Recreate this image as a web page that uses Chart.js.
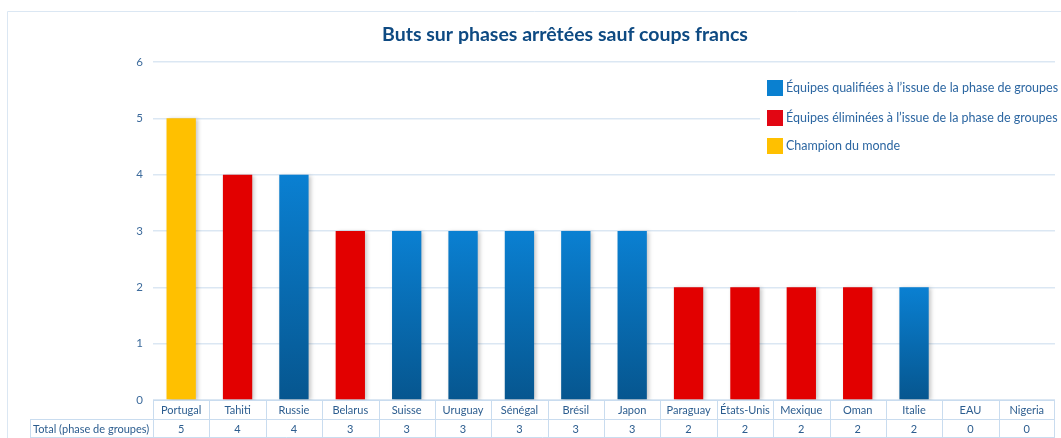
<!DOCTYPE html>
<html>
<head>
<meta charset="utf-8">
<script src="https://cdn.jsdelivr.net/npm/chart.js@4.4.1/dist/chart.umd.min.js"></script>
<style>
  html, body { margin: 0; padding: 0; background: #fff; }
  #wrap { width: 1061px; height: 438px; position: relative; }
</style>
</head>
<body>
<div id="wrap"><canvas id="chart" width="1061" height="438"></canvas></div>
<script>
const titleText = "Buts sur phases arrêtées sauf coups francs";
const countries = ["Portugal", "Tahiti", "Russie", "Belarus", "Suisse", "Uruguay", "Sénégal", "Brésil",
  "Japon", "Paraguay", "États-Unis", "Mexique", "Oman", "Italie", "EAU", "Nigeria"];
const totals = [5, 4, 4, 3, 3, 3, 3, 3, 3, 2, 2, 2, 2, 2, 0, 0];
// q = qualifiée, e = éliminée, c = champion
const status = ["c", "e", "q", "e", "q", "q", "q", "q", "q", "e", "e", "e", "e", "q", "e", "e"];
const seriesLabels = {
  q: "Équipes qualifiées à l’issue de la phase de groupes",
  e: "Équipes éliminées à l’issue de la phase de groupes",
  c: "Champion du monde"
};
const rowLabel = "Total (phase de groupes)";
const yTicks = [0, 1, 2, 3, 4, 5, 6];

const FONT = "Lato, 'Open Sans', sans-serif";
const TXT = "#2c5d8f";
const LINE = "#dbe7f3";

function blueGradient(ctx) {
  const chart = ctx.chart;
  const area = chart.chartArea;
  if (!area || ctx.parsed == null) return "#0a7acb";
  const y = chart.scales.y;
  const top = y.getPixelForValue(ctx.parsed.y);
  const bottom = y.getPixelForValue(0);
  if (!(bottom > top)) return "#0a7acb";
  const g = chart.ctx.createLinearGradient(0, top, 0, bottom);
  g.addColorStop(0, "#0a80d2");
  g.addColorStop(1, "#06568f");
  return g;
}

function pick(key) {
  return totals.map((v, i) => status[i] === key ? v : null);
}

const datasets = [
  { key: "q", label: seriesLabels.q, data: pick("q"), backgroundColor: blueGradient, legendColor: "#0a80d0" },
  { key: "e", label: seriesLabels.e, data: pick("e"), backgroundColor: "#e20000", legendColor: "#e20613" },
  { key: "c", label: seriesLabels.c, data: pick("c"), backgroundColor: "#ffc000", legendColor: "#ffc000" }
];

const decor = {
  id: "decor",
  beforeDatasetsDraw(chart) {
    const c = chart.ctx;
    c.save();
    c.shadowColor = "rgba(0,0,0,0.22)";
    c.shadowBlur = 4;
    c.shadowOffsetX = 2;
    c.shadowOffsetY = 1;
  },
  afterDatasetsDraw(chart) {
    chart.ctx.restore();
  },
  afterDraw(chart) {
    const c = chart.ctx;
    const area = chart.chartArea;
    const x = chart.scales.x;
    c.save();

    // frame
    c.strokeStyle = LINE;
    c.lineWidth = 1;
    c.beginPath();
    c.moveTo(7.5, 438);
    c.lineTo(7.5, 11.5);
    c.lineTo(1061, 11.5);
    c.stroke();

    // title
    c.fillStyle = "#0e4a82";
    c.font = "bold 19.5px " + FONT;
    c.textAlign = "center";
    c.textBaseline = "middle";
    c.fillText(titleText, 565, 35);

    // legend
    c.fillStyle = "#fff";
    c.fillRect(760, 72, 298, 88);
    c.font = "12.5px " + FONT;
    c.textAlign = "left";
    const ly = [88, 118, 146];
    datasets.forEach((ds, i) => {
      c.fillStyle = ds.legendColor;
      c.fillRect(767, ly[i] - 8, 16, 16);
      c.fillStyle = "#2d67a2";
      c.fillText(ds.label, 786, ly[i]);
    });

    // data table
    const half = (x.getPixelForValue(1) - x.getPixelForValue(0)) / 2;
    const r1 = area.bottom, r2 = area.bottom + 19, r3 = area.bottom + 37;
    c.strokeStyle = "#c9dcef";
    c.beginPath();
    c.moveTo(area.left, r1 + 0.5); c.lineTo(area.right, r1 + 0.5);
    c.moveTo(30, r2 + 0.5); c.lineTo(area.right, r2 + 0.5);
    c.moveTo(30, r3 + 0.5); c.lineTo(area.right, r3 + 0.5);
    c.moveTo(30.5, r2); c.lineTo(30.5, r3);
    countries.forEach((n, i) => {
      const px = Math.round(x.getPixelForValue(i) - half) + 0.5;
      c.moveTo(px, r1); c.lineTo(px, r3);
    });
    c.moveTo(area.right - 0.5, r1); c.lineTo(area.right - 0.5, r3);
    c.stroke();

    c.fillStyle = TXT;
    c.font = "11px " + FONT;
    c.textAlign = "center";
    countries.forEach((n, i) => {
      const px = x.getPixelForValue(i);
      c.fillText(n, px, (r1 + r2) / 2 + 1);
      c.fillText(String(totals[i]), px, (r2 + r3) / 2 + 1);
    });
    c.textAlign = "left";
    c.fillText(rowLabel, 33, (r2 + r3) / 2 + 1);
    c.restore();
  }
};

new Chart(document.getElementById("chart"), {
  type: "bar",
  data: {
    labels: countries,
    datasets: datasets.map(d => ({
      label: d.label,
      data: d.data,
      backgroundColor: d.backgroundColor,
      borderWidth: 0,
      categoryPercentage: 1,
      barPercentage: 0.52
    }))
  },
  options: {
    responsive: false,
    animation: false,
    layout: { padding: { left: 0, right: 6, top: 62, bottom: 38 } },
    plugins: { legend: { display: false }, title: { display: false }, tooltip: { enabled: false } },
    scales: {
      x: { stacked: true, display: false },
      y: {
        stacked: true,
        min: 0,
        max: 6,
        afterFit(scale) { scale.width = 153; },
        afterBuildTicks(scale) { scale.ticks = yTicks.map(v => ({ value: v })); },
        border: { display: false },
        grid: { color: LINE, lineWidth: 1.5, drawTicks: false },
        ticks: { color: "#3d6b9c", padding: 10, font: { family: FONT, size: 11.5 } }
      }
    }
  },
  plugins: [decor]
});
</script>
</body>
</html>
